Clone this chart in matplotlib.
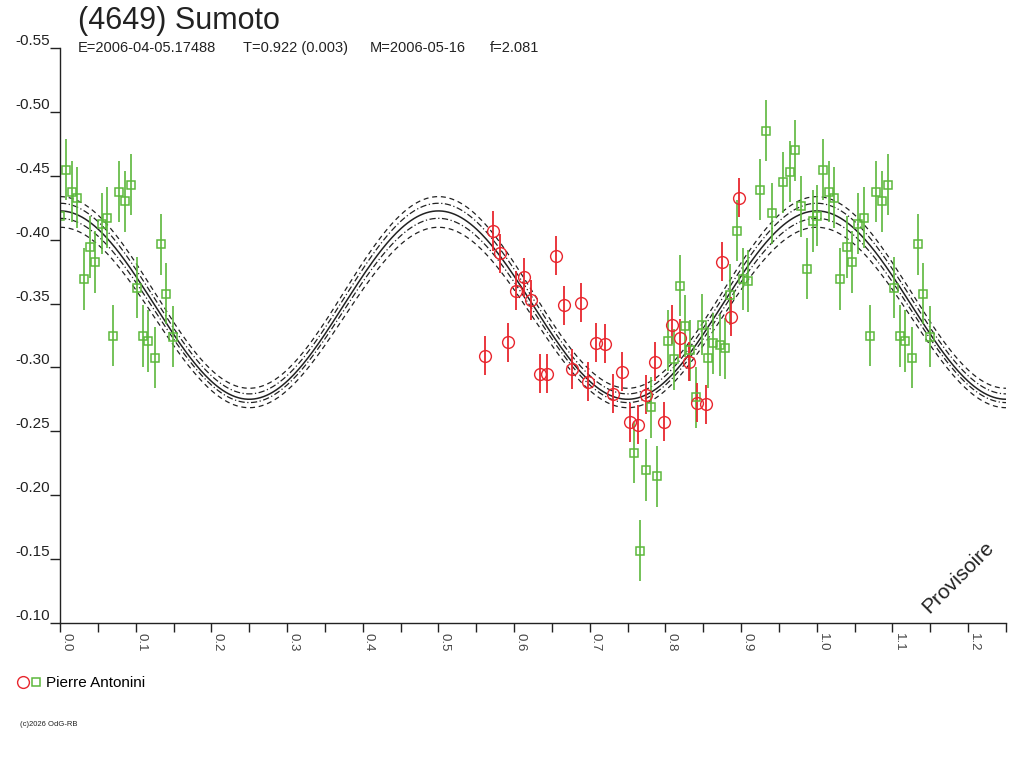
import numpy as np
import matplotlib
matplotlib.use("Agg")
import matplotlib.pyplot as plt
from matplotlib.lines import Line2D
from matplotlib.legend_handler import HandlerTuple
from matplotlib.ticker import FormatStrFormatter, MultipleLocator

plt.rcParams['font.family'] = ['Liberation Sans', 'DejaVu Sans']
plt.rcParams['axes.unicode_minus'] = False

# session 1 (red circles)
red_phase = [0.5614, 0.5715, 0.5816, 0.5922, 0.6028, 0.6130, 0.6230, 0.6336, 0.6441,
             0.6553, 0.6658, 0.6768, 0.6878, 0.6979, 0.7089, 0.7204, 0.7310, 0.7425,
             0.7535, 0.7644, 0.7746, 0.7865, 0.7975, 0.8086, 0.8196, 0.8305, 0.8417,
             0.8535, 0.8751, 0.8866, 0.8972]
red_mag = [-0.3092, -0.4068, -0.3894, -0.3197, -0.3599, -0.3706, -0.3528, -0.2951, -0.2951,
           -0.3875, -0.3487, -0.2988, -0.3507, -0.2889, -0.3194, -0.3184, -0.2795, -0.2967,
           -0.2571, -0.2552, -0.2785, -0.3045, -0.2576, -0.3335, -0.3228, -0.3045, -0.2725,
           -0.2712, -0.3826, -0.3397, -0.4329]
red_err = 0.0153

# session 2 (green squares)
green_phase = [0.0005, 0.0083, 0.0159, 0.0225, 0.0313, 0.0393, 0.0467, 0.0551, 0.0625,
               0.0697, 0.0784, 0.0859, 0.0935, 0.1022, 0.1097, 0.1167, 0.1256, 0.1331,
               0.1401, 0.1490,
               0.7588, 0.7667, 0.7737, 0.7808, 0.7888, 0.8033, 0.8107, 0.8186, 0.8262,
               0.8328, 0.8407, 0.8486, 0.8562, 0.8628, 0.8715, 0.8786, 0.8857, 0.8949,
               0.9025, 0.9095, 0.9249, 0.9323, 0.9412, 0.9553, 0.9640, 0.9712, 0.9786,
               0.9874, 0.9950]
green_mag = [-0.4188, -0.4548, -0.4376, -0.4329, -0.3692, -0.3943, -0.3826, -0.4125, -0.4172,
             -0.3249, -0.4376, -0.4300, -0.4430, -0.3624, -0.3246, -0.3207, -0.3077, -0.3964,
             -0.3577, -0.3241,
             -0.2333, -0.1567, -0.2198, -0.2689, -0.2149, -0.3210, -0.3064, -0.3640, -0.3325,
             -0.3135, -0.2767, -0.3335, -0.3077, -0.3189, -0.3176, -0.3150, -0.3570, -0.4070,
             -0.3692, -0.3677, -0.4391, -0.4853, -0.4207, -0.4449, -0.4532, -0.4700, -0.4261,
             -0.3773, -0.4146]
green_err = 0.0240

# fit: mag = mean - amp*cos(4 pi phase), plus the four envelope curves
fit_mean = -0.3488
fit_amp = 0.0737
env_mean = [-0.3587, -0.3539, -0.3446, -0.3391]
env_amp = [0.0750, 0.0746, 0.0721, 0.0706]
env_style = ['--', '-.', '-.', '--']

red_c = '#e8262e'
green_c = '#5cb83c'
ink = '#222222'

fig = plt.figure(figsize=(10.24, 7.68), dpi=100)
ax = fig.add_axes([60/1024, 1-623/768, 946/1024, 575/768])

ph = np.linspace(0, 1.25, 600)
for m, a, s in zip(env_mean, env_amp, env_style):
    ax.plot(ph, m - a*np.cos(4*np.pi*ph), s, color=ink, lw=0.9,
            dashes=(4, 3) if s == '--' else (5, 2, 1, 2))
ax.plot(ph, fit_mean - fit_amp*np.cos(4*np.pi*ph), '-', color=ink, lw=1.1)


def wrap(p, m):
    p = np.array(p); m = np.array(m)
    k = p < 0.25
    return np.concatenate([p, p[k] + 1]), np.concatenate([m, m[k]])


gp, gm = wrap(green_phase, green_mag)
rp, rm = wrap(red_phase, red_mag)
ax.errorbar(gp, gm, yerr=green_err, fmt='s', ms=6, mfc='none', mec=green_c, mew=1.1,
            ecolor=green_c, elinewidth=1.2, capsize=0)
ax.errorbar(rp, rm, yerr=red_err, fmt='o', ms=8.5, mfc='none', mec=red_c, mew=1.0,
            ecolor=red_c, elinewidth=1.3, capsize=0)

ax.set_xlim(0, 1.25)
ax.set_ylim(-0.10, -0.55)
ax.set_xticks(np.arange(0, 1.21, 0.1))
ax.xaxis.set_minor_locator(MultipleLocator(0.05))
ax.xaxis.set_major_formatter(FormatStrFormatter('%.1f'))
ax.set_yticks(np.arange(-0.55, -0.099, 0.05))
ax.yaxis.set_major_formatter(FormatStrFormatter('%.2f'))
for sp in ['top', 'right']:
    ax.spines[sp].set_visible(False)
for sp in ['left', 'bottom']:
    ax.spines[sp].set_color(ink)
    ax.spines[sp].set_linewidth(1)
ax.tick_params(axis='x', which='both', length=6.5, width=1, color=ink, pad=1,
               labelsize=9.5, labelcolor='#444444')
ax.tick_params(axis='y', length=7.2, width=1, color=ink, pad=0, labelsize=11, labelcolor=ink)
for lb in ax.get_xticklabels():
    lb.set_rotation(270)
    lb.set_ha('left')
    lb.set_va('top')
for lb in ax.get_yticklabels():
    lb.set_va('bottom')

fig.text(78/1024, 1-21/768, '(4649) Sumoto', fontsize=22, color=ink, va='center')
for x, s in [(78, 'E=2006-04-05.17488'), (243, 'T=0.922 (0.003)'),
             (370, 'M=2006-05-16'), (490, 'f=2.081')]:
    fig.text(x/1024, 1-48/768, s, fontsize=10.5, color=ink, va='center')

fig.text(958/1024, 1-577/768, 'Provisoire', fontsize=15, color=ink, rotation=45,
         ha='center', va='center')

h_r = Line2D([], [], marker='o', ls='none', ms=8.5, mfc='none', mec=red_c, mew=1.0)
h_g = Line2D([], [], marker='s', ls='none', ms=6, mfc='none', mec=green_c, mew=1.1)
fig.legend(handles=[(h_r, h_g)], labels=['Pierre Antonini'],
           handler_map={tuple: HandlerTuple(ndivide=None, pad=0.1)},
           loc='center left', bbox_to_anchor=(18/1024, 1-683/768), frameon=False,
           handlelength=1.5, handletextpad=0.3, fontsize=11, borderpad=0, borderaxespad=0)

fig.text(20/1024, 1-725/768, '(c)2026 OdG-RB', fontsize=5.5, color=ink, va='center')

fig.savefig('out.png', dpi=100)
